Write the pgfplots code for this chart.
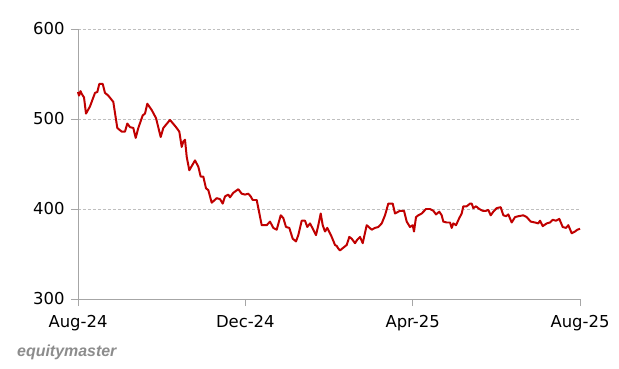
\documentclass[border=0pt]{standalone}
\usepackage{fontspec}
\setmainfont{DejaVu Sans}
\newfontfamily\logofont{Liberation Sans}
\usepackage{pgfplots}
\pgfplotsset{compat=1.18}
\definecolor{linered}{HTML}{C00000}
\definecolor{axgrey}{HTML}{A6A6A6}
\definecolor{gridgrey}{HTML}{BFBFBF}
\definecolor{logogrey}{HTML}{8C8C8C}
\begin{document}
\begin{tikzpicture}[x=1bp,y=1bp]
\useasboundingbox (0,0) rectangle (619,368);
\begin{axis}[
  at={(78bp,69bp)}, anchor=south west,
  scale only axis, width=502bp, height=270bp,
  xmin=78, xmax=580, ymin=300, ymax=600,
  xtick={78,245.33,412.67,580},
  xticklabels={Aug-24,Dec-24,Apr-25,Aug-25},
  ytick={300,400,500,600},
  axis x line=bottom, axis y line=left,
  axis line style={-, draw=axgrey, line width=0.8pt},
  tick align=outside, major tick length=7bp,
  tick style={draw=axgrey, line width=0.8pt},
  ymajorgrids, grid style={dash pattern=on 3pt off 2pt, gridgrey, line width=0.5pt},
  /pgf/number format/assume math mode=true,
  ticklabel style={font=\fontsize{16.5}{18}\selectfont, text=black},
  xticklabel style={yshift=-6bp},
  yticklabel style={xshift=-3bp},
  clip=false,
]
\addplot[linered, line width=2pt, line join=round] coordinates {
(78,530) (79,526) (80.5,531) (81.7,528) (84,524) (86,506) (90,514) (95,529) (97.3,530) (99.3,539)
(102.7,539) (105,529) (108.3,526) (113.3,519) (117.3,490) (121.7,486) (125,486) (127.3,495) (130,491) (133.3,490)
(135.7,479) (138.3,490) (142.7,504) (145,506) (147.3,517) (151.7,510) (156,501) (160.7,480) (163.3,490) (170,499)
(176,491) (179.3,486) (181.7,469) (183.3,475) (185,477) (186.7,458) (189.3,443) (195,454) (198.3,447) (200.7,436)
(203.3,436) (206,423) (208.3,421) (211.7,407) (216.7,412) (220,411) (222.7,406) (225,414) (228.3,416) (230,413)
(233.3,418) (238.3,422) (241.7,417) (245,416) (248.3,417) (250.7,414) (252.7,410) (256.7,410) (261.7,382) (266.7,382)
(270,386) (273.3,379) (276.7,377) (280.7,393) (283.3,390) (286,380) (289.3,379) (292.7,367) (296,364) (298.3,371)
(301.7,387) (305,387) (307.3,380) (310,384) (313.3,377) (316,371) (318.3,382) (320.7,395) (322.7,382) (325,375)
(327.3,379) (331.7,369) (335,360) (336.7,359) (338.3,356) (340,354) (343.3,357) (346.7,360) (349.3,369) (351.7,367)
(355,362) (357.3,366) (360,369) (362.7,362) (366.7,382) (371.7,377) (375,379) (378.3,380) (381.7,384) (385,393)
(388.3,406) (392.7,406) (395,395) (398.3,397) (400,398) (404,398) (406.7,386) (410,380) (412.7,382) (414,375)
(416,391) (418.3,393) (421.7,395) (426,400) (430,400) (433.3,398) (436,394) (439.3,397) (441.7,393) (443.3,386)
(446.7,385) (450,385) (451.7,379) (453.3,384) (456,382) (459.3,390) (461.7,395) (463.3,403) (466.7,403) (470,406)
(471.7,406) (473.3,401) (476,403) (479.3,400) (482.7,398) (486,398) (488.3,399) (490.7,393) (493.3,397) (496.7,401)
(500.7,402) (503.3,393) (506,392) (508.3,394) (511.7,385) (515,391) (518.3,392) (523.3,393) (526.7,391) (530.7,386)
(535,385) (538.3,384) (540,387) (542.7,381) (546.7,384) (550,385) (552.7,388) (556,387) (559.3,389) (562.7,380)
(566,379) (568.3,382) (571.7,373) (575,375) (577.3,377) (580,378)
};
\end{axis}
\node[anchor=west, inner sep=0pt, text=logogrey, font=\logofont\bfseries\itshape\fontsize{16}{18}\selectfont] at (17,16) {equitymaster};
\end{tikzpicture}
\end{document}
